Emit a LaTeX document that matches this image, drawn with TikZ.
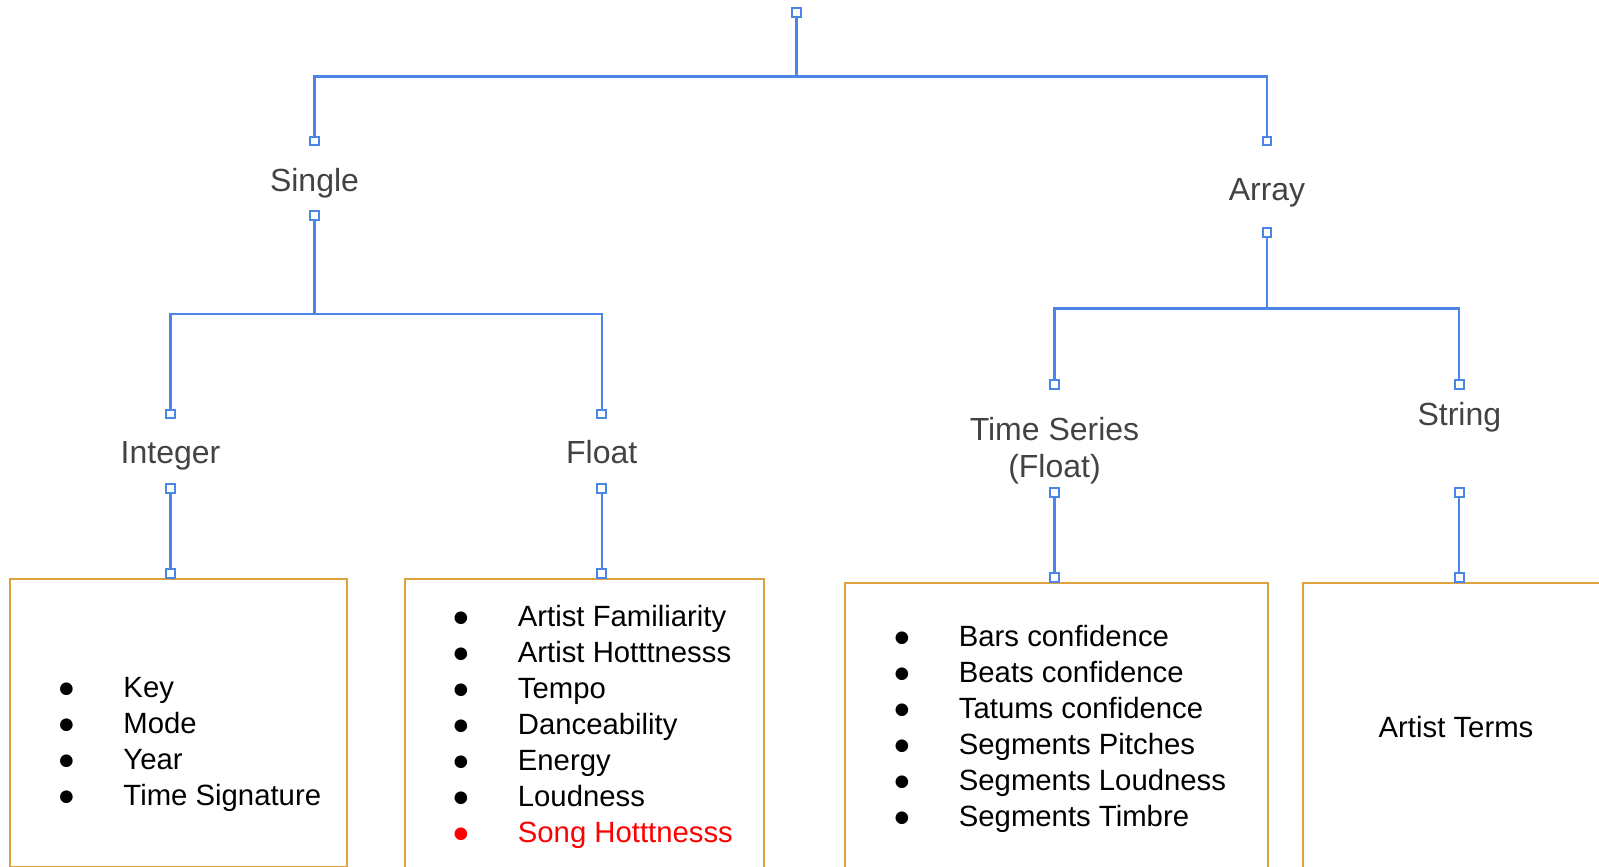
\documentclass[tikz,border=0pt]{standalone}
\usepackage{fontspec}
\setmainfont{Liberation Sans}
\definecolor{lineblue}{RGB}{74,134,232}
\definecolor{boxorange}{RGB}{222,161,62}
\definecolor{labelgray}{RGB}{67,67,67}
\definecolor{hotred}{RGB}{255,0,0}
\newcommand\bitem[1]{\makebox[0pt][c]{●}\hspace*{57pt}#1}
\begin{document}
\begin{tikzpicture}[x=1pt,y=-1pt,
  conn/.style={draw=lineblue,line width=2.2pt},
  handle/.style={rectangle,draw=lineblue,fill=white,line width=2pt,minimum size=8.5pt,inner sep=0pt},
  lbl/.style={text=labelgray,inner sep=0pt,font=\fontsize{32}{38.7}\selectfont},
  box/.style={rectangle,draw=boxorange,line width=2pt,inner sep=0pt,anchor=north west},
  list/.style={inner sep=0pt,anchor=base west,font=\fontsize{29.3}{36}\selectfont}
]
\useasboundingbox (0,0) rectangle (1599,867);

% boxes
\node[box,minimum width=336.7pt,minimum height=287.8pt] (b1) at (9,577.7) {};
\node[box,minimum width=358.7pt,minimum height=300pt] (b2) at (404,577.7) {};
\node[box,minimum width=423.3pt,minimum height=300pt] (b3) at (844,582.3) {};
\node[box,minimum width=330pt,minimum height=300pt] (b4) at (1302,582.3) {};

% handle positions
\coordinate (root) at (796.5,12.5);
\coordinate (sT) at (314.5,141);
\coordinate (sB) at (314.5,215.5);
\coordinate (aT) at (1267,141);
\coordinate (aB) at (1267,232.3);
\coordinate (iT) at (170.5,414);
\coordinate (iB) at (170.5,488.5);
\coordinate (iX) at (170.5,573.5);
\coordinate (fT) at (601.7,414);
\coordinate (fB) at (601.7,488.5);
\coordinate (fX) at (601.7,573.5);
\coordinate (tT) at (1054.5,384.5);
\coordinate (tB) at (1054.5,492.5);
\coordinate (tX) at (1054.5,577.7);
\coordinate (gT) at (1459.3,384.5);
\coordinate (gB) at (1459.3,492.5);
\coordinate (gX) at (1459.3,577.7);

\coordinate (j0) at (796.5,76.5);
\coordinate (j1) at (314.5,314);
\coordinate (j2) at (1267,308.5);

% connectors
\draw[conn] (root) -- (j0) -| (sT);
\draw[conn] (j0) -| (aT);
\draw[conn] (sB) -- (j1) -| (iT);
\draw[conn] (j1) -| (fT);
\draw[conn] (aB) -- (j2) -| (tT);
\draw[conn] (j2) -| (gT);
\draw[conn] (iB) -- (iX);
\draw[conn] (fB) -- (fX);
\draw[conn] (tB) -- (tX);
\draw[conn] (gB) -- (gX);

% handles on top
\foreach \h in {root,sT,sB,aT,aB,iT,iB,iX,fT,fB,fX,tT,tB,tX,gT,gB,gX}
  \node[handle] (h-\h) at (\h) {};

% labels
\node[lbl,anchor=base] (single) at (314.5,191) {Single};
\node[lbl,anchor=base] (array) at (1267,200.5) {Array};
\node[lbl,anchor=base] (integer) at (170.5,463.5) {Integer};
\node[lbl,anchor=base] (float) at (601.7,463.5) {Float};
\node[lbl,anchor=base] (ts1) at (1054.5,440.5) {Time Series};
\node[lbl,anchor=base] (ts2) at (1054.5,477.5) {(Float)};
\node[lbl,anchor=base] (string) at (1459.3,425.5) {String};

% lists
\node[list] (l1) at (66.3,697) {\begin{tabular}[t]{@{}l@{}}
\bitem{Key}\\ \bitem{Mode}\\ \bitem{Year}\\ \bitem{Time Signature}
\end{tabular}};
\node[list] (l2) at (460.7,626.2) {\begin{tabular}[t]{@{}l@{}}
\bitem{Artist Familiarity}\\ \bitem{Artist Hotttnesss}\\ \bitem{Tempo}\\ \bitem{Danceability}\\ \bitem{Energy}\\ \bitem{Loudness}\\ {\color{hotred}\bitem{Song Hotttnesss}}
\end{tabular}};
\node[list] (l3) at (901.7,646.2) {\begin{tabular}[t]{@{}l@{}}
\bitem{Bars confidence}\\ \bitem{Beats confidence}\\ \bitem{Tatums confidence}\\ \bitem{Segments Pitches}\\ \bitem{Segments Loudness}\\ \bitem{Segments Timbre}
\end{tabular}};
\node[list,anchor=base] (l4) at (1456,737) {Artist Terms};
\end{tikzpicture}
\end{document}
